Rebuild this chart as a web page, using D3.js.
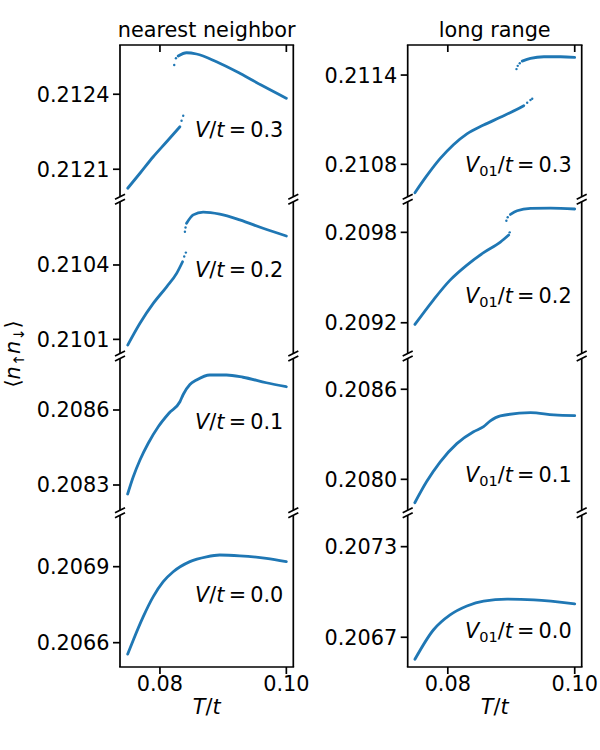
<!DOCTYPE html>
<html>
<head>
<meta charset="utf-8">
<script src="https://cdn.jsdelivr.net/npm/d3@7"></script>
<style>
  body { margin: 0; background: #fff; }
  text { font-family: "DejaVu Sans", sans-serif; fill: #000; }
</style>
</head>
<body>
<div id="chart"></div>
<script>
// x axis
const xDomain = [0.07368, 0.1011];
const xTicks = [0.08, 0.10];

// nearest neighbor column, panels from top (V/t = 0.3) to bottom (V/t = 0.0)
const nnLabels = ["0.3", "0.2", "0.1", "0.0"];
const nnDomains = [[0.21199, 0.212597], [0.210043, 0.210655], [0.208199, 0.208806], [0.206504, 0.207103]];
const nnTicks = [[0.2121, 0.2124], [0.2101, 0.2104], [0.2083, 0.2086], [0.2066, 0.2069]];

const nn03Lower = [[0.0749, 0.212024], [0.07684, 0.212084], [0.07894, 0.21215], [0.08106, 0.21221], [0.08316, 0.21227]];
const nn03Dots = [[0.08342, 0.212294], [0.08368, 0.212314], [0.08226, 0.212517], [0.08253, 0.212544]];
const nn03Upper = [[0.08289, 0.212553], [0.08421, 0.212566], [0.08579, 0.212561], [0.08895, 0.21253], [0.09263, 0.212484], [0.09631, 0.212433], [0.1, 0.212384]];

const nn02Lower = [[0.0749, 0.210077], [0.07684, 0.210165], [0.07894, 0.210245], [0.08106, 0.210312], [0.08264, 0.210366], [0.08358, 0.210413]];
const nn02Dots = [[0.08384, 0.210434], [0.0841, 0.21045], [0.08395, 0.210534], [0.08405, 0.210551]];
const nn02Upper = [[0.08421, 0.210568], [0.08526, 0.210602], [0.08684, 0.210613], [0.08947, 0.210605], [0.09263, 0.210582], [0.09631, 0.210548], [0.1, 0.210517]];

const nn01 = [[0.07489, 0.208264], [0.07578, 0.208333], [0.07684, 0.2084], [0.07815, 0.208467], [0.07973, 0.208533], [0.08142, 0.208587], [0.08316, 0.208633], [0.08368, 0.208662], [0.08474, 0.208702], [0.08579, 0.20872], [0.08789, 0.20874], [0.09053, 0.20874], [0.09315, 0.208731], [0.09684, 0.208709], [0.1, 0.208693]];

const nn00 = [[0.0749, 0.206555], [0.07579, 0.206611], [0.07736, 0.206703], [0.07894, 0.206782], [0.08052, 0.206841], [0.0821, 0.20688], [0.08474, 0.20692], [0.08737, 0.206939], [0.08947, 0.206946], [0.09263, 0.206943], [0.09684, 0.206933], [0.1, 0.20692]];

// long range column
const lrLabels = ["0.3", "0.2", "0.1", "0.0"];
const lrDomains = [[0.210582, 0.211602], [0.208996, 0.210003], [0.207794, 0.208805], [0.206503, 0.207508]];
const lrTicks = [[0.2108, 0.2114], [0.2092, 0.2098], [0.2080, 0.2086], [0.2067, 0.2073]];

const lr03Lower = [[0.07482, 0.210609], [0.07667, 0.210722], [0.07878, 0.210838], [0.08089, 0.210932], [0.08301, 0.211005], [0.08564, 0.211064], [0.08828, 0.211116], [0.09093, 0.21117], [0.09197, 0.211194]];
const lr03Dots = [[0.09251, 0.211214], [0.09303, 0.211232], [0.0933, 0.211241], [0.09082, 0.21144], [0.09102, 0.211462], [0.09134, 0.211479]];
const lr03Upper = [[0.09172, 0.211494], [0.09303, 0.211512], [0.09514, 0.211523], [0.09778, 0.211523], [0.1, 0.211519]];

const lr02Lower = [[0.07482, 0.209189], [0.07772, 0.209351], [0.08036, 0.209483], [0.08301, 0.209583], [0.08564, 0.209665], [0.08828, 0.209735], [0.0896, 0.209782]];
const lr02Dots = [[0.08976, 0.2098], [0.08923, 0.209877], [0.08944, 0.2099]];
const lr02Upper = [[0.08987, 0.209919], [0.09093, 0.209943], [0.09303, 0.209959], [0.0962, 0.209961], [0.1, 0.209955]];

const lr01 = [[0.0748, 0.207844], [0.07667, 0.207985], [0.07878, 0.208115], [0.08142, 0.208238], [0.08405, 0.208317], [0.08564, 0.208351], [0.0867, 0.208389], [0.08828, 0.208422], [0.09303, 0.208444], [0.09672, 0.208429], [0.1, 0.208424]];

const lr00 = [[0.07482, 0.206554], [0.07772, 0.206748], [0.08036, 0.206848], [0.08301, 0.206907], [0.08564, 0.20694], [0.08934, 0.206952], [0.09356, 0.206947], [0.1, 0.206921]];

const nnLines = [[nn03Lower, nn03Upper], [nn02Lower, nn02Upper], [nn01], [nn00]];
const nnDots = [nn03Dots, nn02Dots, [], []];
const lrLines = [[lr03Lower, lr03Upper], [lr02Lower, lr02Upper], [lr01], [lr00]];
const lrDots = [lr03Dots, lr02Dots, [], []];

const color = "#1f77b4";
const fontSize = 20.8;
const panelTop = 45, panelH = 151.75, gap = 5;

const svg = d3.select("#chart").append("svg").attr("width", 600).attr("height", 750);

const line = d3.line().x(d => d[0]).y(d => d[1]).curve(d3.curveMonotoneX);

// write a mathtext-ish label: parts are [text, italic, sub]
function mathText(g, parts) {
  let sub = false;
  parts.forEach(([t, it, s]) => {
    const ts = g.append("tspan").text(t);
    if (it) ts.attr("font-style", "italic");
    if (s && !sub) { ts.attr("dy", 4).attr("font-size", fontSize * 0.7); sub = true; }
    else if (s) ts.attr("font-size", fontSize * 0.7);
    else if (!s && sub) { ts.attr("dy", -4); sub = false; }
  });
}

function drawColumn(x0, x1, title, domains, ticks, lines, dots, labels, sym, labelOffsets) {
  const x = d3.scaleLinear().domain(xDomain).range([x0, x1]);
  const g = svg.append("g");

  domains.forEach((dom, i) => {
    const y0 = panelTop + i * (panelH + gap), y1 = y0 + panelH;
    const y = d3.scaleLinear().domain(dom).range([y1, y0]);

    // data
    lines[i].forEach(seg => {
      g.append("path")
        .attr("d", line(seg.map(d => [x(d[0]), y(d[1])])))
        .attr("fill", "none").attr("stroke", color)
        .attr("stroke-width", 2.8).attr("stroke-linecap", "round");
    });
    g.selectAll(null).data(dots[i]).enter().append("circle")
      .attr("cx", d => x(d[0])).attr("cy", d => y(d[1]))
      .attr("r", 1.2).attr("fill", color);

    // spines
    [x0, x1].forEach(sx => g.append("line").attr("x1", sx).attr("x2", sx).attr("y1", y0).attr("y2", y1)
      .attr("stroke", "#000").attr("stroke-width", 1.7));
    if (i === 0) g.append("line").attr("x1", x0).attr("x2", x1).attr("y1", y0).attr("y2", y0)
      .attr("stroke", "#000").attr("stroke-width", 1.7).attr("stroke-linecap", "square");
    if (i === domains.length - 1) g.append("line").attr("x1", x0).attr("x2", x1).attr("y1", y1).attr("y2", y1)
      .attr("stroke", "#000").attr("stroke-width", 1.7).attr("stroke-linecap", "square");

    // break marks
    const marks = [];
    if (i > 0) marks.push(y0);
    if (i < domains.length - 1) marks.push(y1);
    marks.forEach(my => [x0, x1].forEach(mx => {
      g.append("line").attr("x1", mx - 5).attr("y1", my + 2.5).attr("x2", mx + 5).attr("y2", my - 2.5)
        .attr("stroke", "#000").attr("stroke-width", 1.7);
    }));

    // y ticks
    ticks[i].forEach(v => {
      g.append("line").attr("x1", x0 - 7).attr("x2", x0).attr("y1", y(v)).attr("y2", y(v))
        .attr("stroke", "#000").attr("stroke-width", 1.7);
      g.append("text").attr("x", x0 - 10.5).attr("y", y(v)).attr("dy", "0.36em")
        .attr("text-anchor", "end").attr("font-size", fontSize).text(v.toFixed(4));
    });

    // panel label
    const lab = g.append("text").attr("x", x1 - 10).attr("y", y0 + labelOffsets[i])
      .attr("text-anchor", "end").attr("font-size", fontSize);
    mathText(lab, sym.concat([["/", false, false], ["t", true, false], ["\u2009=\u2009" + labels[i], false, false]]));

    // x axis
    if (i === 0) {
      xTicks.forEach(v => g.append("line").attr("x1", x(v)).attr("x2", x(v)).attr("y1", y0).attr("y2", y0 + 7)
        .attr("stroke", "#000").attr("stroke-width", 1.7));
    }
    if (i === domains.length - 1) {
      xTicks.forEach(v => {
        g.append("line").attr("x1", x(v)).attr("x2", x(v)).attr("y1", y1).attr("y2", y1 + 7)
          .attr("stroke", "#000").attr("stroke-width", 1.7);
        g.append("text").attr("x", x(v)).attr("y", y1 + 23.5).attr("text-anchor", "middle")
          .attr("font-size", fontSize).text(v.toFixed(2));
      });
      const xl = g.append("text").attr("x", (x0 + x1) / 2).attr("y", y1 + 47)
        .attr("text-anchor", "middle").attr("font-size", fontSize);
      mathText(xl, [["T", true, false], ["/", false, false], ["t", true, false]]);
    }
  });

  g.append("text").attr("x", (x0 + x1) / 2).attr("y", panelTop - 8).attr("text-anchor", "middle")
    .attr("font-size", fontSize).text(title);
}

drawColumn(120, 293.3, "nearest neighbor", nnDomains, nnTicks, nnLines, nnDots, nnLabels,
  [["V", true, false]], [92, 75, 70, 86.5]);
drawColumn(407.7, 581.7, "long range", lrDomains, lrTicks, lrLines, lrDots, lrLabels,
  [["V", true, false], ["01", false, true]], [126.7, 101.5, 123.2, 123]);

// y axis label
const yl = svg.append("text").attr("transform", "translate(20,354) rotate(-90)")
  .attr("text-anchor", "middle").attr("font-size", fontSize);
mathText(yl, [["\u27e8", false, false], ["n", true, false], ["\u2191", false, true], ["n", true, false], ["\u2193", false, true], ["\u27e9", false, false]]);
</script>
</body>
</html>
